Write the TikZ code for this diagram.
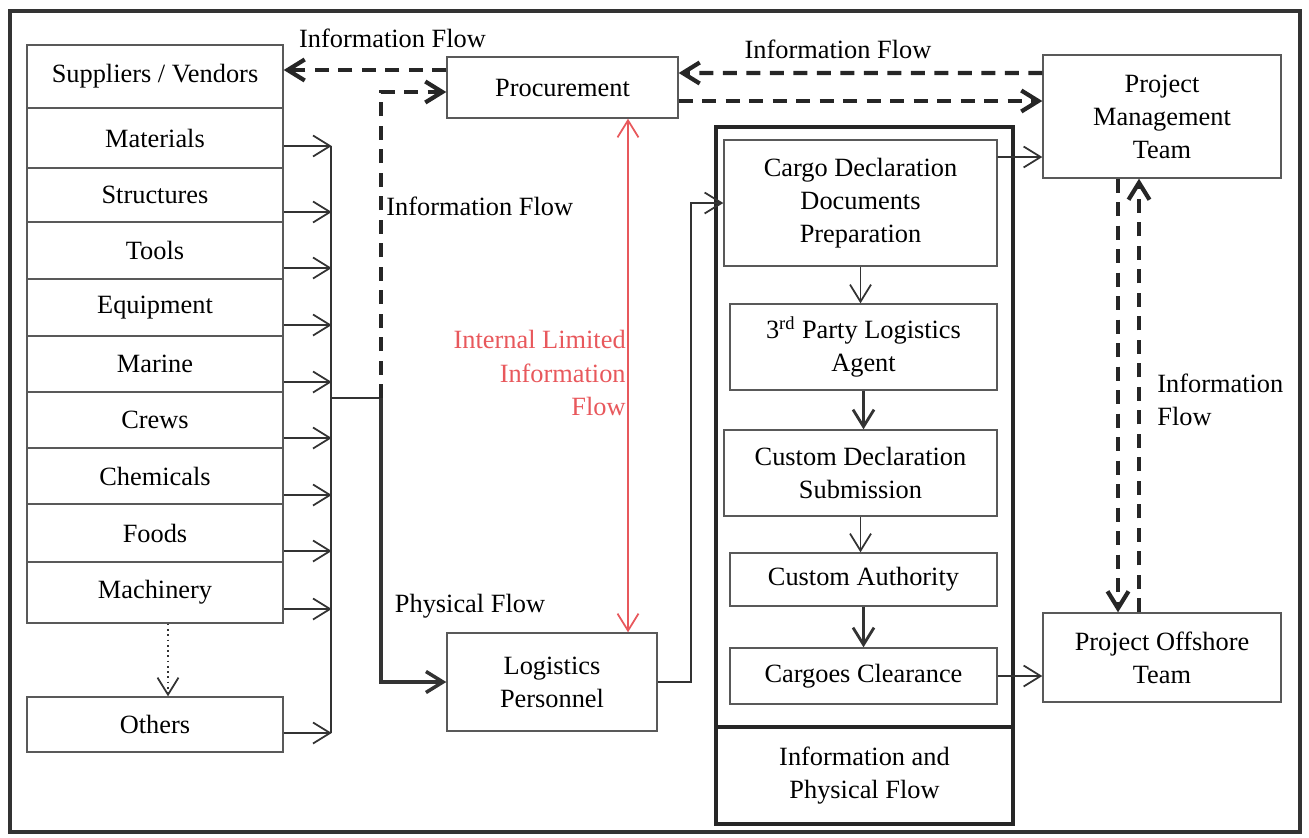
\documentclass[tikz,border=0pt]{standalone}
\usepackage{fontspec}
\setmainfont{Liberation Serif}
\usetikzlibrary{arrows.meta}
\definecolor{redflow}{RGB}{232,88,92}
\begin{document}
\begin{tikzpicture}[
  font=\fontsize{15}{18.8}\selectfont,
  box/.style={draw=black!65, line width=0.8pt, align=center, inner sep=0pt},
  row/.style={box, minimum width=5.12cm},
  bigbox/.style={draw=black!85, line width=2pt, minimum width=5.94cm, align=center, inner sep=0pt},
  lbl/.style={inner sep=0pt, align=center},
  flow/.style={draw=black!80, line width=1pt},
  dashflow/.style={draw=black!85, line width=2.4pt, dash pattern=on 2.8mm off 1.9mm},
  >={Straight Barb[length=3.4mm,width=4.2mm]}
]
\useasboundingbox (0,0) rectangle (26.18,-16.74);
\draw[line width=0.8mm, black!80] (0.2,-0.22) rectangle (26.0,-16.64);

% left column
\node[row, minimum height=1.26cm] (sup) at (3.1,-1.53)  {Suppliers / Vendors};
\node[row, minimum height=1.2cm]  (mat) at (3.1,-2.76)  {Materials};
\node[row, minimum height=1.08cm] (str) at (3.1,-3.9)   {Structures};
\node[row, minimum height=1.14cm] (too) at (3.1,-5.01)  {Tools};
\node[row, minimum height=1.14cm] (equ) at (3.1,-6.15)  {Equipment};
\node[row, minimum height=1.12cm] (mar) at (3.1,-7.28)  {Marine};
\node[row, minimum height=1.12cm] (cre) at (3.1,-8.4)   {Crews};
\node[row, minimum height=1.12cm] (che) at (3.1,-9.52)  {Chemicals};
\node[row, minimum height=1.16cm] (foo) at (3.1,-10.66) {Foods};
\node[row, minimum height=1.22cm] (mac) at (3.1,-11.85) {Machinery};
\node[row, minimum height=1.1cm]  (oth) at (3.1,-14.49) {Others};

% middle
\node[box, minimum width=4.62cm, minimum height=1.22cm] (pro) at (11.25,-1.75)  {Procurement};
\node[box, minimum width=4.2cm,  minimum height=1.96cm] (log) at (11.04,-13.64) {Logistics\\Personnel};

% right group
\node[bigbox, minimum height=12cm]   (grp) at (17.29,-8.54)  {};
\node[bigbox, minimum height=1.94cm] (ipf) at (17.29,-15.51) {Information and\\Physical Flow};
\node[box, minimum width=5.46cm, minimum height=2.52cm] (cdd) at (17.21,-4.06)  {Cargo Declaration\\Documents\\Preparation};
\node[box, minimum width=5.34cm, minimum height=1.72cm] (tpl) at (17.27,-6.94)  {3\textsuperscript{rd} Party Logistics\\Agent};
\node[box, minimum width=5.46cm, minimum height=1.72cm] (cds) at (17.21,-9.46)  {Custom Declaration\\Submission};
\node[box, minimum width=5.34cm, minimum height=1.06cm] (cau) at (17.27,-11.59) {Custom Authority};
\node[box, minimum width=5.34cm, minimum height=1.12cm] (ccl) at (17.27,-13.52) {Cargoes Clearance};

\node[box, minimum width=4.76cm, minimum height=2.46cm] (pmt) at (23.24,-2.33)  {Project\\Management\\Team};
\node[box, minimum width=4.76cm, minimum height=1.78cm] (pot) at (23.24,-13.15) {Project Offshore\\Team};

% labels
\node[lbl] (lbsup) at (7.85,-0.76)  {Information Flow};
\node[lbl] (lbpmt) at (16.76,-0.98) {Information Flow};
\node[lbl, anchor=west] (lbpro) at (7.72,-4.12) {Information Flow};
\node[lbl, anchor=east, align=right, text=redflow] (lbred) at (12.52,-7.46) {Internal Limited\\Information\\Flow};
\node[lbl] (lbphy) at (9.4,-12.12) {Physical Flow};
\node[lbl, anchor=west, align=left] (lboff) at (23.14,-7.99) {Information\\Flow};

% items to collector
\coordinate (ctop)  at (6.62,-2.92);
\coordinate (cbot)  at (6.62,-14.66);
\coordinate (cmid)  at (6.62,-7.96);
\coordinate (split) at (7.62,-7.96);
\foreach \n/\dy in {mat/-0.16, str/-0.34, too/-0.35, equ/-0.35, mar/-0.36, cre/-0.36, che/-0.38, foo/-0.36, mac/-0.33, oth/-0.17}
  \draw[flow, ->] (\n.east) ++(0,\dy) -- ++(0.96,0);
\draw[flow] (ctop) -- (cbot);
\draw[flow] (cmid) -- (split);
\draw[draw=black!80, line width=2pt, ->] (split) |- (log.west);
\draw[dashflow, ->] (split) |- ([yshift=-0.09cm]pro.west);
\draw[black!80, line width=1pt, dotted, ->] ([xshift=0.26cm]mac.south) -- ([xshift=0.26cm]oth.north);

% information flows
\draw[dashflow, ->] ([yshift=0.35cm]pro.west) -- ([yshift=0.13cm]sup.east);
\draw[dashflow, ->] ([yshift=0.87cm]pmt.west) -- ([yshift=0.29cm]pro.east);
\draw[dashflow, ->] ([yshift=-0.27cm]pro.east) -- ([yshift=0.31cm]pmt.west);
\draw[dashflow, ->] ([xshift=-0.88cm]pmt.south) -- ([xshift=-0.88cm]pot.north);
\draw[dashflow, ->] ([xshift=-0.46cm]pot.north) -- ([xshift=-0.46cm]pmt.south);
\draw[redflow, line width=1pt, <->] ([xshift=1.31cm]pro.south) -- ([xshift=1.52cm]log.north);

% physical flows
\draw[flow, ->] (log.east) -- ++(0.66,0) |- (cdd.west);
\draw[flow, ->] (cdd.south) -- (cdd.south |- tpl.north);
\draw[flow, line width=1.6pt, ->] (tpl.south) -- (tpl.south |- cds.north);
\draw[flow, ->] (cds.south) -- (cds.south |- cau.north);
\draw[flow, line width=1.6pt, ->] (cau.south) -- (cau.south |- ccl.north);
\draw[flow, ->] ([yshift=0.92cm]cdd.east) -- ([yshift=-0.81cm]pmt.west);
\draw[flow, ->] (ccl.east) -- (ccl.east -| pot.west);
\end{tikzpicture}
\end{document}
